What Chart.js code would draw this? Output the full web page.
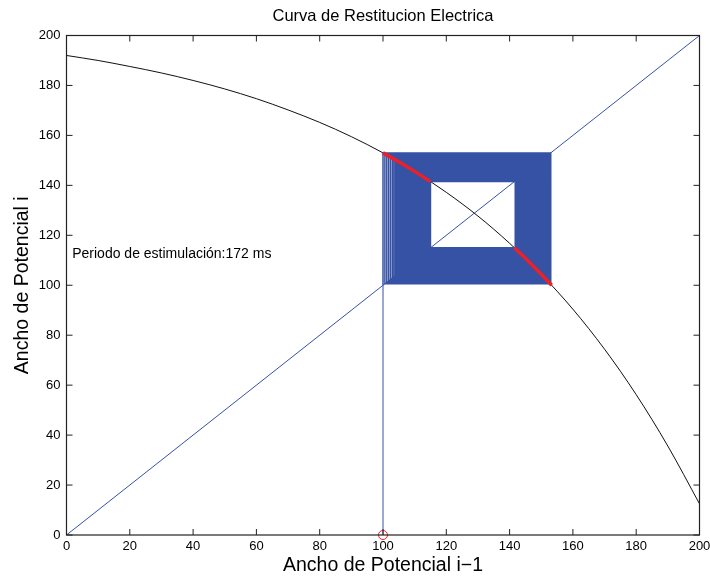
<!DOCTYPE html>
<html>
<head>
<meta charset="utf-8">
<script src="https://cdn.jsdelivr.net/npm/chart.js@4.4.0/dist/chart.umd.min.js"></script>
<style>
html,body{margin:0;padding:0;background:#fff;}
#wrap{width:710px;height:578px;position:relative;}
</style>
</head>
<body>
<div id="wrap"><canvas id="c" width="710" height="578"></canvas></div>
<script>
// ---- data ----
const chartTitle = 'Curva de Restitucion Electrica';
const xTitle = 'Ancho de Potencial i\u22121';
const yTitle = 'Ancho de Potencial i';
const annotation = 'Periodo de estimulaci\u00f3n:172 ms';
const tickValues = [0, 20, 40, 60, 80, 100, 120, 140, 160, 180, 200];

// restitution curve
const curveX = [0, 10, 20, 30, 40, 50, 60, 70, 80, 90, 100, 110, 120, 130, 140, 150, 160, 170, 180, 190, 200];
const curveY = [192.0, 190.0, 187.6, 185.0, 182.0, 178.6, 174.7, 170.2, 165.2, 159.5, 153.0, 145.6, 137.2, 127.7, 116.8, 104.4, 90.4, 74.4, 56.2, 35.6, 12.5];

// identity line
const diagX = [0, 200];
const diagY = [0, 200];

// cobweb orbit: short (lower) and long (upper) action potential widths, alternating
const orbitLow = [100.0, 100.6, 101.2, 101.8, 102.4, 103.0, 103.5, 104.0, 104.4, 104.8, 105.2, 105.5, 105.8, 106.1, 106.4, 106.7, 107.0, 107.3, 107.6, 107.9, 108.2, 108.5, 108.8, 109.1, 109.4, 109.7, 110.0, 110.3, 110.6, 110.9, 111.2, 111.5, 111.8, 112.1, 112.4, 112.7, 113.0, 113.3, 113.6, 113.9, 114.2, 114.5, 114.8, 115.0];
const orbitHigh = [153.0, 152.58, 152.16, 151.74, 151.31, 150.88, 150.52, 150.16, 149.87, 149.57, 149.28, 149.06, 148.83, 148.61, 148.39, 148.16, 147.93, 147.71, 147.48, 147.25, 147.02, 146.79, 146.56, 146.33, 146.10, 145.86, 145.63, 145.39, 145.16, 144.92, 144.69, 144.45, 144.21, 143.97, 143.73, 143.49, 143.24, 143.00, 142.76, 142.51, 142.27, 142.02, 141.78, 141.55];

// highlighted orbit points on the curve (red)
const redAX = [100, 105, 110, 115];
const redAY = [153.0, 149.4, 145.6, 141.5];
const redBX = [141.5, 145, 150, 153.3];
const redBY = [115.0, 110.8, 104.4, 100.0];

// starting point marker
const startX = [100];
const startY = [0];

// ---- build tables for the library ----
const zip = (xs, ys) => xs.map((x, i) => ({x: x, y: ys[i]}));
const startLeg = [{x: orbitLow[0], y: startY[0]}, {x: orbitLow[0], y: orbitLow[0]}];
const cobweb = [];
for (let k = 0; k < orbitLow.length; k++) {
  const L = orbitLow[k], U = orbitHigh[k];
  cobweb.push({x: L, y: L});
  cobweb.push({x: L, y: U});
  cobweb.push({x: U, y: U});
  if (k + 1 < orbitLow.length) cobweb.push({x: U, y: orbitLow[k + 1]});
}

const BLUE = 'rgb(54,82,164)';
const RED = 'rgb(236,32,40)';
const FONT = '"Liberation Sans", Arial, Helvetica, sans-serif';

const framePlugin = {
  id: 'frame',
  afterDraw(chart) {
    const ctx = chart.ctx;
    const a = chart.chartArea;
    const xs = chart.scales.x, ys = chart.scales.y;
    ctx.save();
    ctx.strokeStyle = '#222';
    ctx.lineWidth = 1.2;
    ctx.strokeRect(a.left, a.top, a.right - a.left, a.bottom - a.top);
    ctx.lineWidth = 1;
    ctx.beginPath();
    const tl = 6;
    tickValues.forEach(v => {
      const px = xs.getPixelForValue(v);
      ctx.moveTo(px, a.bottom); ctx.lineTo(px, a.bottom - tl);
      ctx.moveTo(px, a.top); ctx.lineTo(px, a.top + tl);
      const py = ys.getPixelForValue(v);
      ctx.moveTo(a.left, py); ctx.lineTo(a.left + tl, py);
      ctx.moveTo(a.right, py); ctx.lineTo(a.right - tl, py);
    });
    ctx.stroke();
    // texts
    ctx.fillStyle = '#000';
    ctx.textAlign = 'center';
    ctx.textBaseline = 'middle';
    const cx = (a.left + a.right) / 2;
    ctx.font = '16.5px ' + FONT;
    ctx.fillText(chartTitle, cx, 16);
    ctx.font = '19.5px ' + FONT;
    ctx.fillText(xTitle, cx, 566);
    ctx.save();
    ctx.translate(23, (a.top + a.bottom) / 2);
    ctx.rotate(-Math.PI / 2);
    ctx.fillText(yTitle, 0, 0);
    ctx.restore();
    ctx.font = '14px ' + FONT;
    ctx.textAlign = 'left';
    ctx.fillText(annotation, xs.getPixelForValue(1.8), ys.getPixelForValue(112.5));
    ctx.restore();
  }
};

new Chart(document.getElementById('c'), {
  type: 'scatter',
  data: {
    datasets: [
      {data: zip(redAX, redAY), showLine: true, borderColor: RED, borderWidth: 3.5, pointRadius: 0, order: 0, borderCapStyle: 'butt'},
      {data: zip(redBX, redBY), showLine: true, borderColor: RED, borderWidth: 3.5, pointRadius: 0, order: 0, borderCapStyle: 'butt'},
      {data: zip(startX, startY), showLine: false, pointRadius: 4.5, pointStyle: 'circle', borderColor: RED, backgroundColor: 'rgba(0,0,0,0)', borderWidth: 1, order: 1, clip: false},
      {data: cobweb, showLine: true, borderColor: BLUE, borderWidth: 1.5, pointRadius: 0, tension: 0, order: 2},
      {data: startLeg, showLine: true, borderColor: BLUE, borderWidth: 1, pointRadius: 0, tension: 0, order: 2},
      {data: zip(curveX, curveY), showLine: true, borderColor: '#111', borderWidth: 1, pointRadius: 0, cubicInterpolationMode: 'monotone', order: 3},
      {data: zip(diagX, diagY), showLine: true, borderColor: BLUE, borderWidth: 1, pointRadius: 0, order: 4}
    ]
  },
  options: {
    responsive: false,
    animation: false,
    events: [],
    layout: {padding: {top: 35.5, right: 0, left: 0, bottom: 0}},
    plugins: {legend: {display: false}, tooltip: {enabled: false}, title: {display: false}},
    scales: {
      x: {
        type: 'linear', min: 0, max: 200,
        afterBuildTicks: s => { s.ticks = tickValues.map(v => ({value: v})); },
        afterFit: s => { s.height = 43; s.paddingRight = 10.5; },
        grid: {display: true, drawOnChartArea: false, drawTicks: false},
        border: {display: false},
        ticks: {color: '#000', font: {family: FONT, size: 13}, padding: 4, maxRotation: 0, autoSkip: false}
      },
      y: {
        type: 'linear', min: 0, max: 200,
        afterBuildTicks: s => { s.ticks = tickValues.map(v => ({value: v})); },
        afterFit: s => { s.width = 66.5; },
        grid: {display: true, drawOnChartArea: false, drawTicks: false},
        border: {display: false},
        ticks: {color: '#000', font: {family: FONT, size: 13}, padding: 6, autoSkip: false}
      }
    }
  },
  plugins: [framePlugin]
});
</script>
</body>
</html>
